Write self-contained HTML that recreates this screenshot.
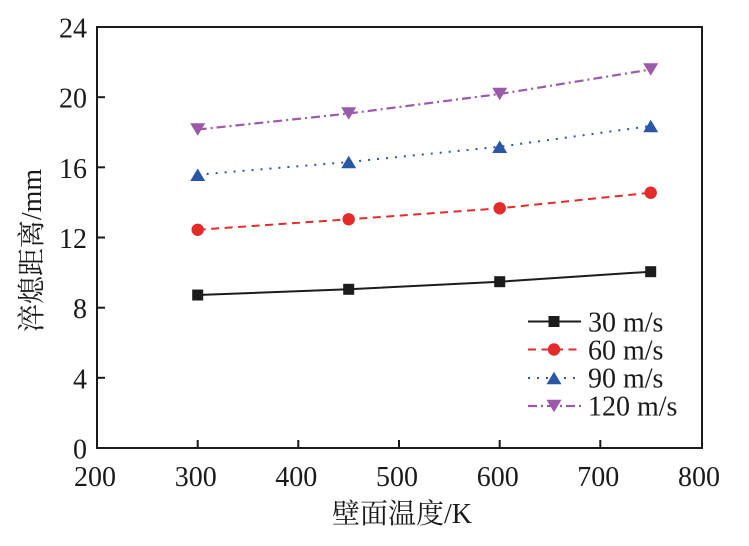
<!DOCTYPE html>
<html>
<head>
<meta charset="utf-8">
<style>
  html,body{margin:0;padding:0;background:#fff;}
  svg{display:block;}
  .t{font-family:"Liberation Serif","Noto Serif CJK SC",serif;fill:#1a1a1a;}
</style>
</head>
<body>
<svg width="749" height="546" viewBox="0 0 749 546" xmlns="http://www.w3.org/2000/svg">
  <rect x="0" y="0" width="749" height="546" fill="#fff"/>

  <!-- axes frame -->
  <rect x="97" y="27" width="605" height="421" fill="none" stroke="#1a1a1a" stroke-width="2"/>

  <!-- y ticks -->
  <g stroke="#1a1a1a" stroke-width="2">
    <line x1="97" y1="377.8" x2="105" y2="377.8"/>
    <line x1="97" y1="307.7" x2="105" y2="307.7"/>
    <line x1="97" y1="237.5" x2="105" y2="237.5"/>
    <line x1="97" y1="167.3" x2="105" y2="167.3"/>
    <line x1="97" y1="97.2" x2="105" y2="97.2"/>
    <!-- x ticks -->
    <line x1="197.7" y1="448" x2="197.7" y2="440"/>
    <line x1="298.3" y1="448" x2="298.3" y2="440"/>
    <line x1="399" y1="448" x2="399" y2="440"/>
    <line x1="499.7" y1="448" x2="499.7" y2="440"/>
    <line x1="600.3" y1="448" x2="600.3" y2="440"/>
  </g>

  <!-- y tick labels -->
  <g class="t" font-size="28" text-anchor="end">
    <text x="87" y="458.5">0</text>
    <text x="87" y="388.3">4</text>
    <text x="87" y="318.2">8</text>
    <text x="87" y="248">12</text>
    <text x="87" y="177.8">16</text>
    <text x="87" y="107.7">20</text>
    <text x="87" y="37.5">24</text>
  </g>

  <!-- x tick labels -->
  <g class="t" font-size="28" text-anchor="middle">
    <text x="95" y="486">200</text>
    <text x="195.7" y="486">300</text>
    <text x="296.3" y="486">400</text>
    <text x="397" y="486">500</text>
    <text x="497.7" y="486">600</text>
    <text x="598.3" y="486">700</text>
    <text x="699" y="486">800</text>
  </g>

  <!-- axis titles -->
  <text class="t" font-size="28" x="402" y="523" text-anchor="middle">壁面温度/K</text>
  <text class="t" font-size="28" text-anchor="middle" transform="translate(41,250.5) rotate(-90)">淬熄距离/mm</text>

  <!-- series lines -->
  <polyline points="197.7,295 348.7,289.3 499.7,281.7 650.7,271.7" fill="none" stroke="#1c1c1c" stroke-width="2"/>
  <polyline points="197.7,229.8 348.7,219.3 499.7,208.3 650.7,192.7" fill="none" stroke="#e52a2a" stroke-width="2" stroke-dasharray="8 5.5"/>
  <polyline points="197.7,174.7 348.7,162 499.7,146.7 650.7,126" fill="none" stroke="#2a56a6" stroke-width="2" stroke-dasharray="2 7"/>
  <polyline points="197.7,129.5 348.7,113.5 499.7,94 650.7,69.5" fill="none" stroke="#9b59a9" stroke-width="2.2" stroke-dasharray="9 4 2 4"/>

  <!-- markers: black squares -->
  <g fill="#1c1c1c">
    <rect x="192.2" y="289.5" width="11" height="11"/>
    <rect x="343.2" y="283.8" width="11" height="11"/>
    <rect x="494.2" y="276.2" width="11" height="11"/>
    <rect x="645.2" y="266.2" width="11" height="11"/>
  </g>
  <!-- red circles -->
  <g fill="#e52a2a">
    <circle cx="197.7" cy="229.8" r="6.2"/>
    <circle cx="348.7" cy="219.3" r="6.2"/>
    <circle cx="499.7" cy="208.3" r="6.2"/>
    <circle cx="650.7" cy="192.7" r="6.2"/>
  </g>
  <!-- blue up triangles -->
  <g fill="#2a56a6">
    <polygon points="190.2,180.95 205.2,180.95 197.7,168.45"/>
    <polygon points="341.2,168.25 356.2,168.25 348.7,155.75"/>
    <polygon points="492.2,152.95 507.2,152.95 499.7,140.45"/>
    <polygon points="643.2,132.25 658.2,132.25 650.7,119.75"/>
  </g>
  <!-- purple down triangles -->
  <g fill="#9b59a9">
    <polygon points="190.2,123.25 205.2,123.25 197.7,135.75"/>
    <polygon points="341.2,107.25 356.2,107.25 348.7,119.75"/>
    <polygon points="492.2,87.75 507.2,87.75 499.7,100.25"/>
    <polygon points="643.2,63.25 658.2,63.25 650.7,75.75"/>
  </g>

  <!-- legend -->
  <line x1="528" y1="321.5" x2="581" y2="321.5" stroke="#1c1c1c" stroke-width="2"/>
  <rect x="548.5" y="316" width="11" height="11" fill="#1c1c1c"/>
  <text class="t" font-size="28" x="588" y="331.5">30 m/s</text>

  <line x1="528" y1="349.5" x2="581" y2="349.5" stroke="#e52a2a" stroke-width="2" stroke-dasharray="8 5.5"/>
  <circle cx="554" cy="349.5" r="6.2" fill="#e52a2a"/>
  <text class="t" font-size="28" x="588" y="359.5">60 m/s</text>

  <line x1="528" y1="378" x2="581" y2="378" stroke="#2a56a6" stroke-width="2" stroke-dasharray="2 7"/>
  <polygon points="546.5,384.25 561.5,384.25 554,371.75" fill="#2a56a6"/>
  <text class="t" font-size="28" x="588" y="387.5">90 m/s</text>

  <line x1="528" y1="406" x2="581" y2="406" stroke="#9b59a9" stroke-width="2.2" stroke-dasharray="9 4 2 4"/>
  <polygon points="546.5,399.75 561.5,399.75 554,412.25" fill="#9b59a9"/>
  <text class="t" font-size="28" x="588" y="415.5">120 m/s</text>
</svg>
</body>
</html>
